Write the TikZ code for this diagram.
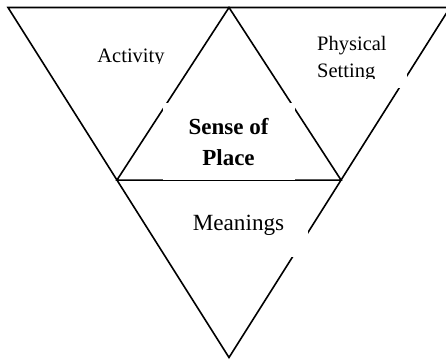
\documentclass[tikz,border=0pt]{standalone}
\usepackage{fontspec}
\setmainfont{Liberation Serif}
\usetikzlibrary{calc}
\begin{document}
\begin{tikzpicture}[x=1pt,y=-1pt,
  edge/.style={line width=1.6pt, line join=miter, line cap=butt},
  mask/.style={fill=white, draw=none},
  lbl/.style={inner sep=0pt, font=\fontsize{20.5}{24}\selectfont},
  lblbig/.style={inner sep=0pt, anchor=base, font=\fontsize{23.2}{28}\selectfont},
]
\clip (0,0) rectangle (446,360);
\fill[white] (0,0) rectangle (446,360);
% outer triangle
\coordinate (TL) at (8,7.5);
\coordinate (TR) at (450,7.5);
\coordinate (B)  at (229,357.5);
% inner triangle
\coordinate (M) at (229,7.5);
\coordinate (L) at ($(TL)!0.493!(B)$);
\coordinate (R) at ($(TR)!0.493!(B)$);
\draw[edge] (TL) -- (TR) -- (B) -- cycle;
\draw[edge] (M) -- (L) -- (R) -- cycle;
% white text boxes
\path[mask] (87,35) rectangle (175,73);
\path[mask] (307,25) rectangle (407,88);
\path[mask] (163,103) rectangle (295,180);
\path[mask] (169,200) rectangle (308,257);
% labels
\begin{scope}
  \clip (87,35) rectangle (175,63);
  \node[lbl, anchor=base] (act) at (131,62) {Activity};
\end{scope}
\begin{scope}
  \clip (307,25) rectangle (407,78);
  \node[lbl, anchor=base west] (phys) at (317,50) {Physical};
  \node[lbl, anchor=base west] (sett) at (317,77) {Setting};
\end{scope}
\node[lblbig, font=\fontsize{23}{28}\selectfont\bfseries] (sense) at (228.5,134) {Sense of};
\node[lblbig, font=\fontsize{23}{28}\selectfont\bfseries] (place) at (228.5,165) {Place};
\node[lblbig] (mean) at (238.5,230) {Meanings};
\end{tikzpicture}
\end{document}
